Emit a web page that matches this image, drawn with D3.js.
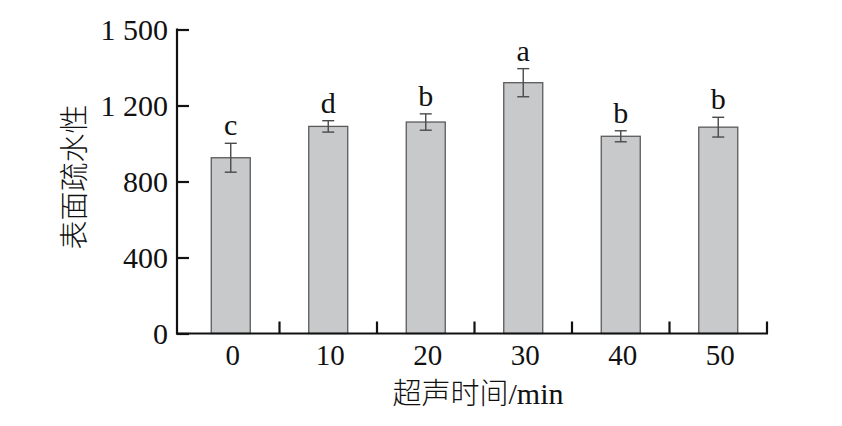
<!DOCTYPE html>
<html>
<head>
<meta charset="utf-8">
<script src="https://cdn.jsdelivr.net/npm/d3@7"></script>
<style>
  html, body { margin: 0; padding: 0; background: #fff; }
  svg { display: block; }
</style>
</head>
<body>
<script>
// ---- data ----
const categories = ["0", "10", "20", "30", "40", "50"];
const values = [925, 1090, 1113, 1320, 1038, 1086];
const errors = [76, 30, 43, 74, 29, 52];
const letters = ["c", "d", "b", "a", "b", "b"];
const yTickValues = [0, 400, 800, 1200, 1600];
const yTickLabels = ["0", "400", "800", "1 200", "1 500"];
const xTitleCjk = "超声时间";
const xTitleUnit = "/min";
const yTitle = "表面疏水性";

// ---- layout ----
const W = 842, H = 426;
const axisX = 177, axisY = 333.5, plotTop = 29.5, plotRight = 767;

const svg = d3.select("body").append("svg").attr("width", W).attr("height", H);
svg.append("rect").attr("width", W).attr("height", H).attr("fill", "#fff");

const x = d3.scaleBand().domain(categories).range([182, plotRight]).paddingInner(0).paddingOuter(0);
const y = d3.scaleLinear().domain([0, 1600]).range([axisY, plotTop]);

const serif = "'Liberation Serif', 'Times New Roman', serif";
const cjk = "'Noto Sans CJK SC', sans-serif";
const barW = 39;

// bars
svg.append("g").selectAll("rect").data(values).join("rect")
  .attr("x", (d, i) => x(categories[i]) + x.bandwidth() / 2 - barW / 2)
  .attr("y", d => y(d))
  .attr("width", barW)
  .attr("height", d => y(0) - y(d))
  .attr("fill", "#c8c9cb")
  .attr("stroke", "#5a5a5a")
  .attr("stroke-width", 1.3);

// error bars
const eg = svg.append("g").attr("stroke", "#4a4a4a").attr("stroke-width", 1.4).attr("fill", "none");
values.forEach((v, i) => {
  const cx = x(categories[i]) + x.bandwidth() / 2;
  const y1 = y(v + errors[i]), y2 = y(v - errors[i]);
  eg.append("line").attr("x1", cx).attr("x2", cx).attr("y1", y1).attr("y2", y2);
  eg.append("line").attr("x1", cx - 6).attr("x2", cx + 6).attr("y1", y1).attr("y2", y1);
  eg.append("line").attr("x1", cx - 6).attr("x2", cx + 6).attr("y1", y2).attr("y2", y2);
});

// significance letters
svg.append("g").selectAll("text").data(letters).join("text")
  .attr("x", (d, i) => x(categories[i]) + x.bandwidth() / 2)
  .attr("y", (d, i) => y(values[i] + errors[i]) - 8)
  .attr("text-anchor", "middle")
  .attr("font-family", serif)
  .attr("font-size", 30)
  .attr("fill", "#111")
  .text(d => d);

// axes lines
const ag = svg.append("g").attr("stroke", "#111").attr("stroke-width", 2.2).attr("fill", "none");
ag.append("line").attr("x1", axisX).attr("x2", axisX).attr("y1", plotTop - 1).attr("y2", axisY + 1);
ag.append("line").attr("x1", axisX - 1).attr("x2", plotRight + 1).attr("y1", axisY).attr("y2", axisY);

// y ticks (inward) & labels
const yAxis = d3.axisRight(y).tickValues(yTickValues).tickSize(12).tickFormat("");
const yg = svg.append("g").attr("transform", `translate(${axisX},0)`).call(yAxis);
yg.select(".domain").remove();
yg.selectAll(".tick line").attr("stroke", "#111").attr("stroke-width", 2.2);
svg.append("g").selectAll("text").data(yTickValues).join("text")
  .attr("x", 168)
  .attr("y", d => y(d))
  .attr("dy", "0.35em")
  .attr("text-anchor", "end")
  .attr("font-family", serif)
  .attr("font-size", 30)
  .attr("fill", "#111")
  .text((d, i) => yTickLabels[i]);

// x ticks at band boundaries (inward)
const boundaries = categories.map(c => x(c) + x.bandwidth());
svg.append("g").selectAll("line").data(boundaries).join("line")
  .attr("x1", d => d).attr("x2", d => d)
  .attr("y1", axisY).attr("y2", axisY - 12)
  .attr("stroke", "#111").attr("stroke-width", 2.2);

// x tick labels
svg.append("g").selectAll("text").data(categories).join("text")
  .attr("x", d => x(d) + x.bandwidth() / 2 + 2)
  .attr("y", 365)
  .attr("text-anchor", "middle")
  .attr("font-family", serif)
  .attr("font-size", 29)
  .attr("fill", "#111")
  .text(d => d);

// x title
const xt = svg.append("text")
  .attr("x", 478).attr("y", 404)
  .attr("text-anchor", "middle")
  .attr("fill", "#111");
xt.append("tspan").attr("font-family", cjk).attr("font-size", 29).attr("font-weight", 300).text(xTitleCjk);
xt.append("tspan").attr("font-family", serif).attr("font-size", 30).text(xTitleUnit);

// y title
svg.append("text")
  .attr("transform", "translate(85,177) rotate(-90)")
  .attr("text-anchor", "middle")
  .attr("font-family", cjk)
  .attr("font-size", 29)
  .attr("font-weight", 300)
  .attr("fill", "#111")
  .text(yTitle);
</script>
</body>
</html>
